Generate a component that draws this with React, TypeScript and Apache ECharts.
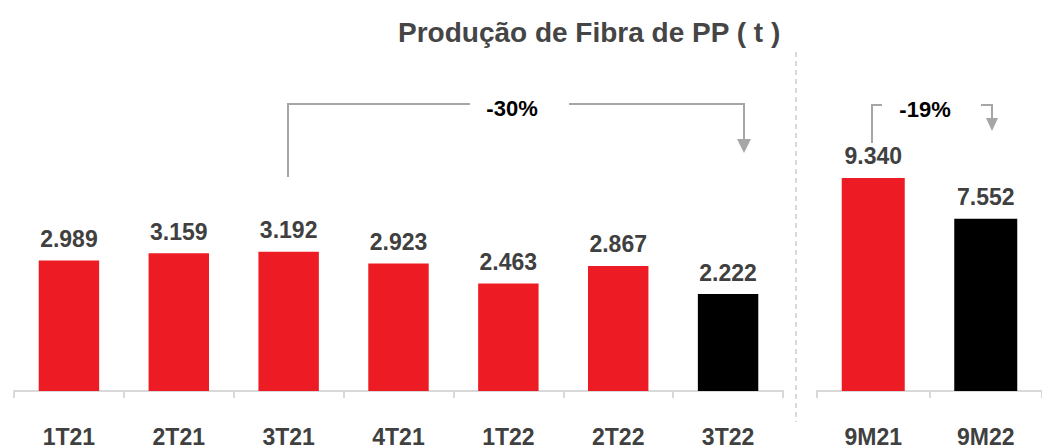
import React, { useEffect, useRef } from "react";
import * as echarts from "echarts";

const quarterCategories = ["1T21", "2T21", "3T21", "4T21", "1T22", "2T22", "3T22"];
const quarterValues = [2989, 3159, 3192, 2923, 2463, 2867, 2222];
const quarterColors = ["#ED1C24", "#ED1C24", "#ED1C24", "#ED1C24", "#ED1C24", "#ED1C24", "#000000"];

const ytdCategories = ["9M21", "9M22"];
const ytdValues = [9340, 7552];
const ytdColors = ["#ED1C24", "#000000"];

const titleText = "Produção de Fibra de PP ( t )";
const quarterChange = "-30%";
const ytdChange = "-19%";

const FONT = "'Liberation Sans', Arial, Helvetica, sans-serif";
const TEXT = "#404040";
const AXIS = "#d9d9d9";
const ARROW = "#a6a6a6";

function fmt(v: number): string {
  const th = Math.floor(v / 1000);
  const rest = String(v % 1000).padStart(3, "0");
  return th > 0 ? `${th}.${rest}` : String(v);
}

export default function App() {
  const ref = useRef<HTMLDivElement>(null);

  useEffect(() => {
    if (!ref.current) return;
    const chart = echarts.init(ref.current, undefined, { renderer: "svg" });

    const catAxis = (idx: number, data: string[]) => ({
      type: "category",
      gridIndex: idx,
      data,
      boundaryGap: true,
      axisLine: { show: true, lineStyle: { color: AXIS, width: 2 } },
      axisTick: { show: true, length: 7, lineStyle: { color: AXIS, width: 2 } },
      axisLabel: {
        color: TEXT,
        fontSize: 23,
        fontWeight: "bold",
        fontFamily: FONT,
        margin: 34,
        interval: 0,
      },
    });

    const valLabel = {
      show: true,
      position: "top",
      distance: 10,
      color: TEXT,
      fontSize: 23,
      fontWeight: "bold",
      fontFamily: FONT,
      formatter: (p: any) => fmt(p.value),
    };

    const arrowLine = { stroke: ARROW, lineWidth: 2, fill: "none" };

    chart.setOption({
      animation: false,
      title: {
        text: titleText,
        left: 393,
        top: 13,
        textStyle: { color: "#454545", fontSize: 28, fontWeight: "bold", fontFamily: FONT },
      },
      grid: [
        { left: 14, width: 769, top: 42, bottom: 56, containLabel: false },
        { left: 817, width: 234, top: 42, bottom: 56, containLabel: false },
      ],
      xAxis: [catAxis(0, quarterCategories), catAxis(1, ytdCategories)],
      yAxis: [
        { type: "value", gridIndex: 0, min: 0, max: 8000, show: false, splitLine: { show: false } },
        { type: "value", gridIndex: 1, min: 0, max: 15300, show: false, splitLine: { show: false } },
      ],
      series: [
        {
          type: "bar",
          xAxisIndex: 0,
          yAxisIndex: 0,
          barWidth: "55%",
          data: quarterValues.map((v, i) => ({ value: v, itemStyle: { color: quarterColors[i] } })),
          label: valLabel,
        },
        {
          type: "bar",
          xAxisIndex: 1,
          yAxisIndex: 1,
          barWidth: "56%",
          data: ytdValues.map((v, i) => ({ value: v, itemStyle: { color: ytdColors[i] } })),
          label: valLabel,
        },
      ],
      graphic: [
        {
          type: "line",
          shape: { x1: 796, y1: 52, x2: 796, y2: 422 },
          style: { stroke: AXIS, lineWidth: 2, lineDash: [5, 4] },
        },
        {
          type: "polyline",
          shape: { points: [[288, 177], [288, 104], [470, 104]] },
          style: arrowLine,
        },
        {
          type: "polyline",
          shape: { points: [[569, 104], [744, 104], [744, 140]] },
          style: arrowLine,
        },
        {
          type: "polygon",
          shape: { points: [[737, 139], [751, 139], [744, 153]] },
          style: { fill: ARROW },
        },
        {
          type: "text",
          x: 512,
          y: 108,
          style: {
            text: quarterChange,
            fill: "#000000",
            font: `bold 22px ${FONT}`,
            align: "center",
            verticalAlign: "middle",
          },
        },
        {
          type: "polyline",
          shape: { points: [[872, 143], [872, 105], [882, 105]] },
          style: arrowLine,
        },
        {
          type: "polyline",
          shape: { points: [[981, 105], [992, 105], [992, 119]] },
          style: arrowLine,
        },
        {
          type: "polygon",
          shape: { points: [[986, 118], [998, 118], [992, 131]] },
          style: { fill: ARROW },
        },
        {
          type: "text",
          x: 925,
          y: 109,
          style: {
            text: ytdChange,
            fill: "#000000",
            font: `bold 22px ${FONT}`,
            align: "center",
            verticalAlign: "middle",
          },
        },
      ],
    });

    return () => chart.dispose();
  }, []);

  return (
    <div
      ref={ref}
      style={{ position: "fixed", left: 0, top: 0, width: 1042, height: 448, background: "#ffffff" }}
    />
  );
}
